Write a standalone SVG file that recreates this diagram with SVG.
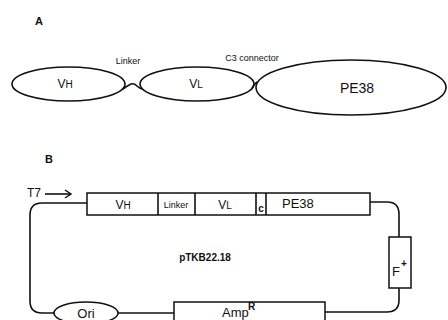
<svg xmlns="http://www.w3.org/2000/svg" width="448" height="320" viewBox="0 0 448 320">
<style>
.s{fill:none;stroke:#111;stroke-width:1.6}
.b{fill:#fff;stroke:#111;stroke-width:1.5}
text{font-family:"Liberation Sans",Arial,sans-serif;fill:#111}
.lab{font-weight:bold;font-size:11px}
.sm{font-size:9px}
.md{font-size:12px}
</style>
<defs>
<marker id="arr" markerWidth="10" markerHeight="10" refX="8" refY="5" orient="auto" markerUnits="userSpaceOnUse">
<path d="M2,1 L8,5 L2,9" fill="none" stroke="#111" stroke-width="1.5"/>
</marker>
</defs>
<text class="lab" x="35" y="25">A</text>
<text class="lab" x="45" y="163">B</text>
<g id="connectors">
<path class="s" d="M123,89 Q127,86 131,84 Q134,83 137,86 Q140,89 143,89"/>
<path class="s" d="M252,88 Q254,84 257,82"/>
<path class="s" d="M87,203 H42 Q30,203 30,215 V301 Q30,313 42,313 H54"/>
<path class="s" d="M118,313 H174"/>
<path class="s" d="M325,312 H387 Q399,312 399,300 V288"/>
<path class="s" d="M370,202 H387 Q399,202 399,214 V237"/>
<path class="s" d="M45,194 H71" marker-end="url(#arr)"/>
</g>
<g id="vh-a">
<ellipse class="s" cx="68.5" cy="84" rx="56.5" ry="17"/>
<text class="md" x="65" y="88" text-anchor="middle">V<tspan font-size="10px">H</tspan></text>
</g>
<g id="linker-a"><text class="sm" x="128" y="64" text-anchor="middle">Linker</text></g>
<g id="vl-a">
<ellipse class="s" cx="197" cy="84" rx="57" ry="17"/>
<text class="md" x="196" y="88" text-anchor="middle">V<tspan font-size="10px">L</tspan></text>
</g>
<g id="c3-a"><text class="sm" x="252" y="61" text-anchor="middle">C3 connector</text></g>
<g id="pe38-a">
<ellipse class="s" cx="351" cy="87.5" rx="95" ry="27.5"/>
<text x="357" y="93" font-size="14" text-anchor="middle">PE38</text>
</g>
<g id="t7"><text class="md" x="27" y="197">T7</text></g>
<g id="cassette">
<rect class="b" x="87" y="193" width="283" height="22"/>
<line class="s" x1="158" y1="193" x2="158" y2="215"/>
<line class="s" x1="195" y1="193" x2="195" y2="215"/>
<line class="s" x1="256" y1="193" x2="256" y2="215"/>
<line class="s" x1="266" y1="193" x2="266" y2="215"/>
<text class="md" x="123" y="209" text-anchor="middle">V<tspan font-size="10px">H</tspan></text>
<text x="176" y="208" font-size="9" text-anchor="middle">Linker</text>
<text class="md" x="225" y="209" text-anchor="middle">V<tspan font-size="10px">L</tspan></text>
<text x="261" y="212" font-size="10" font-weight="bold" text-anchor="middle">c</text>
<text x="282" y="208" font-size="13">PE38</text>
</g>
<g id="plasmid"><text x="205" y="261" font-size="10" font-weight="bold" text-anchor="middle">pTKB22.18</text></g>
<g id="fplus">
<rect class="b" x="389" y="237" width="22" height="51"/>
<text x="392" y="276" font-size="13">F</text>
<text x="401" y="267" font-size="10" font-weight="bold">+</text>
</g>
<g id="ori">
<ellipse class="b" cx="86" cy="313" rx="32" ry="11"/>
<text x="86" y="318" font-size="13" text-anchor="middle">Ori</text>
</g>
<g id="ampr">
<rect class="b" x="174" y="302" width="151" height="24"/>
<text x="222" y="317" font-size="13">Amp</text>
<text x="248" y="310" font-size="10" font-weight="bold">R</text>
</g>
</svg>
